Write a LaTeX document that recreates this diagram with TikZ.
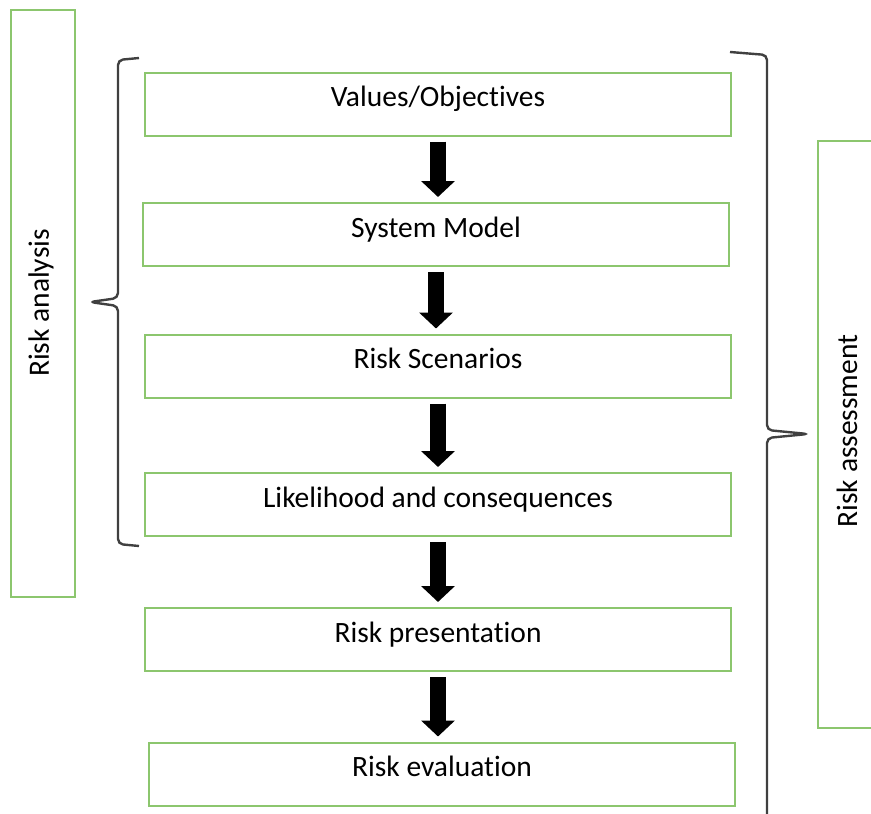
\documentclass[tikz,border=0pt]{standalone}
\usepackage{fontspec}
\setmainfont[Ligatures=NoCommon]{Carlito}
\usetikzlibrary{arrows.meta}
\definecolor{boxgreen}{HTML}{8CC66E}
\definecolor{brk}{HTML}{404040}
\tikzset{
  stepbox/.style={draw=boxgreen, line width=2pt, minimum width=586pt, minimum height=63pt, inner sep=0pt, text height=20pt, text depth=15pt, font=\fontsize{29.5}{34}\selectfont, text=black},
  sidebox/.style={draw=boxgreen, line width=2pt, inner sep=0pt},
  sidelabel/.style={rotate=90, font=\fontsize{29.5}{34}\selectfont, text=black},
  blockarrow/.style={line width=16pt, -{Triangle[width=33pt,length=16pt]}, shorten <=5pt, shorten >=5pt, black},
  bracket/.style={draw=brk, line width=2.4pt, rounded corners=5pt}
}
\begin{document}
\begin{tikzpicture}[x=1pt,y=-1pt]
\useasboundingbox (0,0) rectangle (871,814);
% side boxes
\node[sidebox, minimum width=64pt, minimum height=587pt] (ra) at (43,303.5) {};
\node[sidelabel] (ral) at (41,303) {Risk analysis};
\node[sidebox, minimum width=80pt, minimum height=587pt, anchor=north west] (rs) at (817,140) {};
\node[sidelabel] (rsl) at (847,431) {Risk assessment};
% steps
\node[stepbox] (v) at (438,104) {Values/Objectives};
\node[stepbox] (m) at (436,234.5) {System Model};
\node[stepbox] (s) at (438,366) {Risk Scenarios};
\node[stepbox] (l) at (438,504.5) {Likelihood and consequences};
\node[stepbox] (p) at (438,639.5) {Risk presentation};
\node[stepbox] (e) at (442,774) {Risk evaluation};
% arrows
\draw[blockarrow] (v.south) -- (v.south |- m.north);
\draw[blockarrow] (m.south) -- (m.south |- s.north);
\draw[blockarrow] (s.south) -- (s.south |- l.north);
\draw[blockarrow] (l.south) -- (l.south |- p.north);
\draw[blockarrow] (p.south) -- (p.south |- e.north);
% brackets
\coordinate (lb1) at (139,58);
\coordinate (lbt) at (90,302);
\coordinate (lb2) at (139,546);
\draw[bracket] (lb1) -- (118,60) -- (118,298) -- (lbt) -- (118,306) -- (118,544) -- (lb2);
\coordinate (rb1) at (730,52);
\coordinate (rbt) at (808,434);
\coordinate (rb2) at (767,820);
\draw[bracket] (rb1) -- (767,55) -- (767,430) -- (rbt) -- (767,438) -- (rb2);
\end{tikzpicture}
\end{document}
